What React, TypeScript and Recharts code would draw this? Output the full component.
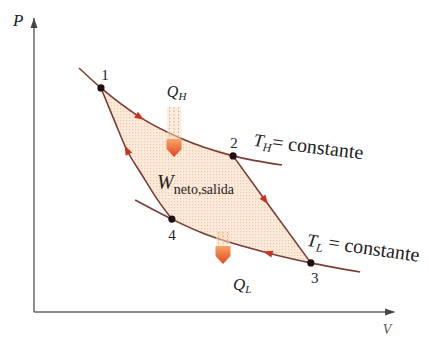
import React from 'react';
import { ComposedChart, Line, Area, XAxis, YAxis, Scatter, ReferenceDot } from 'recharts';

// Isotherm T_H (through states 1 and 2)
const isothermHigh = [
  { v: 1.25, p: 8.3 },
  { v: 1.86, p: 7.62 },
  { v: 2.94, p: 6.63 },
  { v: 4.06, p: 5.92 },
  { v: 5.53, p: 5.31 },
  { v: 6.89, p: 5.0 },
];
// Isotherm T_L (through states 4 and 3)
const isothermLow = [
  { v: 2.81, p: 3.81 },
  { v: 3.83, p: 3.16 },
  { v: 4.61, p: 2.72 },
  { v: 6.5, p: 2.01 },
  { v: 7.69, p: 1.67 },
  { v: 9.06, p: 1.36 },
];
// Adiabat 2 -> 3
const adiabat23 = [
  { v: 5.53, p: 5.31 },
  { v: 6.42, p: 3.8 },
  { v: 7.69, p: 1.67 },
];
// Adiabat 4 -> 1
const adiabat41 = [
  { v: 1.86, p: 7.62 },
  { v: 2.25, p: 6.46 },
  { v: 2.58, p: 5.51 },
  { v: 3.0, p: 4.66 },
  { v: 3.42, p: 3.84 },
  { v: 3.83, p: 3.16 },
];
// State points
const statePoints = [
  { v: 1.86, p: 7.62, n: '1' },
  { v: 5.53, p: 5.31, n: '2' },
  { v: 7.69, p: 1.67, n: '3' },
  { v: 3.83, p: 3.16, n: '4' },
];
// Enclosed cycle area: [lower, upper] pressure at each volume
const cycleArea = [
  { v: 1.86, range: [7.62, 7.62] },
  { v: 2.25, range: [6.46, 7.22] },
  { v: 2.58, range: [5.51, 6.93] },
  { v: 3.0, range: [4.66, 6.6] },
  { v: 3.42, range: [3.84, 6.32] },
  { v: 3.83, range: [3.16, 6.06] },
  { v: 4.61, range: [2.72, 5.68] },
  { v: 5.53, range: [2.37, 5.31] },
  { v: 6.0, range: [2.19, 4.52] },
  { v: 6.5, range: [2.01, 3.68] },
  { v: 7.06, range: [1.85, 2.73] },
  { v: 7.69, range: [1.67, 1.67] },
];

const LINE = '#7a3d36';
const ARROW = '#c8321e';
const TEXT = '#222';
const FONT = '"Liberation Serif", "DejaVu Serif", serif';

const arrowDot = (idx: number, angle: number) => (props: any) => {
  const { cx, cy, index } = props;
  if (index !== idx) return <g key={`d${index}`} />;
  return (
    <path
      key={`d${index}`}
      transform={`translate(${cx},${cy}) rotate(${angle})`}
      d="M5,0 L-4.5,-3.6 L-4.5,3.6 Z"
      fill={ARROW}
    />
  );
};

const labelOffsets: Record<string, [number, number]> = {
  '1': [4, -8],
  '2': [1, -8],
  '3': [4, 20],
  '4': [0, 21],
};

const StateShape = (props: any) => {
  const { cx, cy, payload } = props;
  const off = labelOffsets[payload.n] || [0, 0];
  return (
    <g>
      <circle cx={cx} cy={cy} r={3.6} fill="#1c1010" />
      <text x={cx + off[0]} y={cy + off[1]} textAnchor="middle" fontFamily={FONT} fontSize={15} fill={TEXT}>
        {payload.n}
      </text>
    </g>
  );
};

const heatArrow = (stemLen: number) => (props: any) => {
  const { cx, cy } = props;
  const top = cy - 18 - stemLen;
  return (
    <g>
      <rect x={cx - 7} y={top} width={14} height={stemLen + 2} fill="#f9dcc0" opacity={0.5} />
      {[-4.5, 0, 4.5].map((dx) => (
        <line key={dx} x1={cx + dx} y1={top} x2={cx + dx} y2={cy - 16} stroke="#e8a674" strokeWidth={1} strokeDasharray="1.5 2" />
      ))}
      <path
        d={`M${cx - 7.5},${cy - 18} L${cx + 7.5},${cy - 18} L${cx + 7.5},${cy - 8} L${cx},${cy} L${cx - 7.5},${cy - 8} Z`}
        fill="url(#heatGrad)"
      />
    </g>
  );
};

export default function App() {
  return (
    <div style={{ position: 'absolute', left: 0, top: 0, width: 428, height: 338, background: '#fff' }}>
      <ComposedChart width={428} height={338} margin={{ top: 18, right: 34, bottom: 25, left: 33 }}>
        <defs>
          <pattern id="dots" width="3" height="3" patternUnits="userSpaceOnUse">
            <rect width="3" height="3" fill="#fdebdc" />
            <rect width="1.2" height="1.2" fill="#f0c8a8" />
          </pattern>
          <linearGradient id="heatGrad" x1="0" y1="0" x2="0" y2="1">
            <stop offset="0%" stopColor="#f7a468" />
            <stop offset="100%" stopColor="#e2461c" />
          </linearGradient>
        </defs>
        <XAxis
          type="number"
          dataKey="v"
          domain={[0, 10]}
          allowDataOverflow
          tick={false}
          tickLine={false}
          height={1}
          axisLine={{ stroke: '#666', strokeWidth: 1.5 }}
        />
        <YAxis
          type="number"
          dataKey="p"
          domain={[0, 10]}
          allowDataOverflow
          tick={false}
          tickLine={false}
          width={1}
          axisLine={{ stroke: '#666', strokeWidth: 1.5 }}
        />
        <Area data={cycleArea} dataKey="range" type="monotone" fill="url(#dots)" fillOpacity={1} stroke="none" isAnimationActive={false} activeDot={false} />
        <Line data={isothermHigh} dataKey="p" type="monotone" stroke={LINE} strokeWidth={1.6} dot={arrowDot(2, 32)} activeDot={false} isAnimationActive={false} />
        <Line data={isothermLow} dataKey="p" type="monotone" stroke={LINE} strokeWidth={1.6} dot={arrowDot(3, 196)} activeDot={false} isAnimationActive={false} />
        <Line data={adiabat23} dataKey="p" type="monotone" stroke={LINE} strokeWidth={1.6} dot={arrowDot(1, 54)} activeDot={false} isAnimationActive={false} />
        <Line data={adiabat41} dataKey="p" type="monotone" stroke={LINE} strokeWidth={1.6} dot={arrowDot(2, 243)} activeDot={false} isAnimationActive={false} />
        <Scatter data={statePoints} dataKey="p" shape={StateShape} isAnimationActive={false} />

        {/* heat arrows */}
        <ReferenceDot x={3.89} y={5.27} ifOverflow="visible" shape={heatArrow(32)} />
        <ReferenceDot x={5.25} y={1.63} ifOverflow="visible" shape={heatArrow(14)} />

        {/* axis arrow heads */}
        <ReferenceDot x={0} y={10} ifOverflow="visible" shape={(p: any) => (
          <path d={`M${p.cx},${p.cy} L${p.cx - 3.5},${p.cy + 10} L${p.cx + 3.5},${p.cy + 10} Z`} fill="#444" />
        )} />
        <ReferenceDot x={10.03} y={0} ifOverflow="visible" shape={(p: any) => (
          <path d={`M${p.cx},${p.cy} L${p.cx - 10},${p.cy - 3.5} L${p.cx - 10},${p.cy + 3.5} Z`} fill="#444" />
        )} />

        {/* texts */}
        <ReferenceDot x={-0.58} y={9.73} ifOverflow="visible" shape={(p: any) => (
          <text x={p.cx} y={p.cy} fontFamily={FONT} fontStyle="italic" fontSize={17} fill={TEXT}>P</text>
        )} />
        <ReferenceDot x={9.69} y={-0.75} ifOverflow="visible" shape={(p: any) => (
          <text x={p.cx} y={p.cy} fontFamily={FONT} fontStyle="italic" fontSize={14} fill="#555">V</text>
        )} />
        <ReferenceDot x={3.69} y={7.31} ifOverflow="visible" shape={(p: any) => (
          <text x={p.cx} y={p.cy} fontFamily={FONT} fill={TEXT}>
            <tspan fontStyle="italic" fontSize={16}>Q</tspan>
            <tspan fontStyle="italic" fontSize={11} dy={3}>H</tspan>
          </text>
        )} />
        <ReferenceDot x={6.08} y={5.65} ifOverflow="visible" shape={(p: any) => (
          <text x={p.cx} y={p.cy} fontFamily={FONT} fill={TEXT} transform={`rotate(7 ${p.cx} ${p.cy})`}>
            <tspan fontStyle="italic" fontSize={18}>T</tspan>
            <tspan fontStyle="italic" fontSize={12} dy={4}>H</tspan>
            <tspan fontSize={20} dy={-4}>= constante</tspan>
          </text>
        )} />
        <ReferenceDot x={3.42} y={4.18} ifOverflow="visible" shape={(p: any) => (
          <text x={p.cx} y={p.cy} fontFamily={FONT} fill={TEXT}>
            <tspan fontStyle="italic" fontSize={20}>W</tspan>
            <tspan fontSize={14} dy={5}>neto,salida</tspan>
          </text>
        )} />
        <ReferenceDot x={5.53} y={0.75} ifOverflow="visible" shape={(p: any) => (
          <text x={p.cx} y={p.cy} fontFamily={FONT} fill={TEXT}>
            <tspan fontStyle="italic" fontSize={17}>Q</tspan>
            <tspan fontStyle="italic" fontSize={11} dy={3}>L</tspan>
          </text>
        )} />
        <ReferenceDot x={7.56} y={2.25} ifOverflow="visible" shape={(p: any) => (
          <text x={p.cx} y={p.cy} fontFamily={FONT} fill={TEXT} transform={`rotate(8 ${p.cx} ${p.cy})`}>
            <tspan fontStyle="italic" fontSize={18}>T</tspan>
            <tspan fontStyle="italic" fontSize={12} dy={4}>L</tspan>
            <tspan fontSize={20} dy={-4}> = constante</tspan>
          </text>
        )} />
      </ComposedChart>
    </div>
  );
}
